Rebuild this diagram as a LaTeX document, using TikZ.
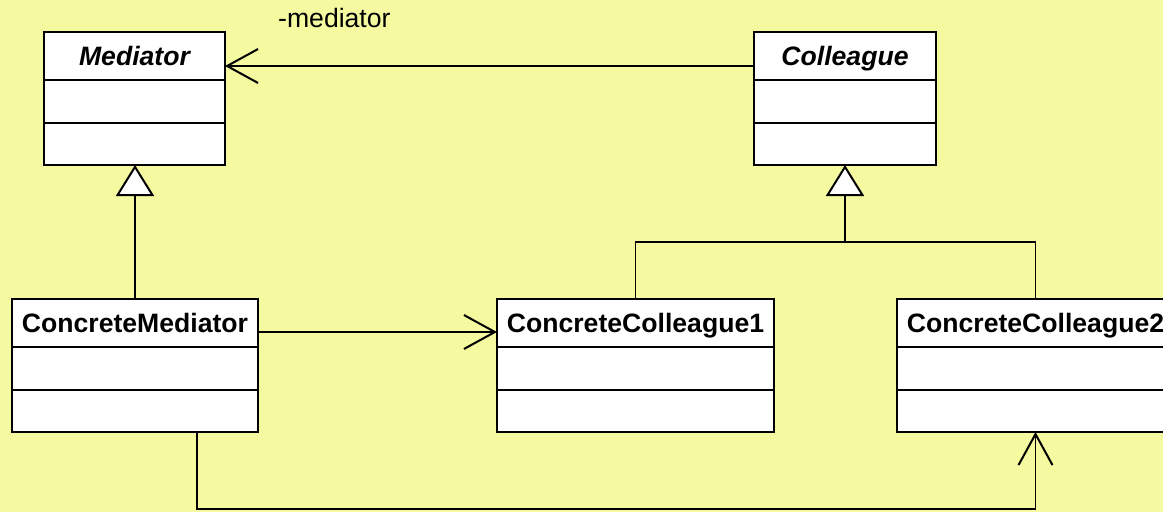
\documentclass[tikz,border=0pt]{standalone}
\usepackage{fontspec}
\setmainfont{Liberation Sans}
\usetikzlibrary{arrows.meta}
\definecolor{paper}{RGB}{245,250,160}
\tikzset{
  classbox/.style={draw=black, fill=white, line width=2pt, inner sep=0pt, outer sep=0pt, rectangle},
  boxline/.style={draw=black, line width=2pt},
  classname/.style={font=\fontsize{26.6}{32}\selectfont\bfseries, inner sep=0pt},
  abstractname/.style={font=\fontsize{26.6}{32}\selectfont\bfseries\itshape, inner sep=0pt},
  rolelabel/.style={font=\fontsize{26.6}{32}\selectfont, inner sep=0pt},
  link/.style={draw=black, line width=1.3pt},
  assoc/.style={link, -{Straight Barb[length=31pt, width=34pt, line width=2pt]}},
  inherit/.style={link, -{Triangle[open, fill=white, length=31pt, width=38pt, line width=2pt]}},
}
% UML class with name compartment and two empty compartments
\newcommand\umlclass[6]{%
  \node[classbox, minimum width=#4pt, minimum height=133pt, anchor=north west] (#1) at (#2,#3) {};
  \draw[boxline] ([yshift=-48pt]#1.north west) -- ([yshift=-48pt]#1.north east);
  \draw[boxline] ([yshift=-91pt]#1.north west) -- ([yshift=-91pt]#1.north east);
  \node[#6, anchor=base] (#1-name) at ([yshift=-33pt]#1.north) {#5};
}
\begin{document}
\begin{tikzpicture}[x=1pt, y=-1pt]
  \useasboundingbox (0,0) rectangle (1163,512);
  \clip (0,0) rectangle (1163,512);
  \fill[paper] (0,0) rectangle (1163,512);

  \umlclass{med}{44}{32}{181}{Mediator}{abstractname}
  \umlclass{col}{754}{32}{182}{Colleague}{abstractname}
  \umlclass{cmed}{12}{299}{246}{ConcreteMediator}{classname}
  \umlclass{cc1}{497}{299}{277}{ConcreteColleague1}{classname}
  \umlclass{cc2}{897}{299}{277}{ConcreteColleague2}{classname}

  % association Colleague -> Mediator with role name
  \draw[assoc] ([yshift=-34pt]col.north west) -- ([yshift=-34pt]med.north east);
  \node[rolelabel, anchor=base west] (role) at (278,27) {-mediator};

  % generalization ConcreteMediator -> Mediator
  \draw[inherit] (cmed.north) -- (cmed.north |- med.south);

  % generalization of both concrete colleagues
  \coordinate (junction) at (col.south |- 0,242);
  \draw[link] (cc1.north) |- (junction) -| (cc2.north);
  \draw[inherit] (junction) -- (col.south);

  % ConcreteMediator knows both concrete colleagues
  \draw[assoc] ([yshift=-33pt]cmed.north east) -- ([yshift=-33pt]cc1.north west);
  \coordinate (cmout) at ([xshift=62pt]cmed.south);
  \draw[assoc] (cmout) -- ++(0,77) -| (cc2.south);
\end{tikzpicture}
\end{document}
